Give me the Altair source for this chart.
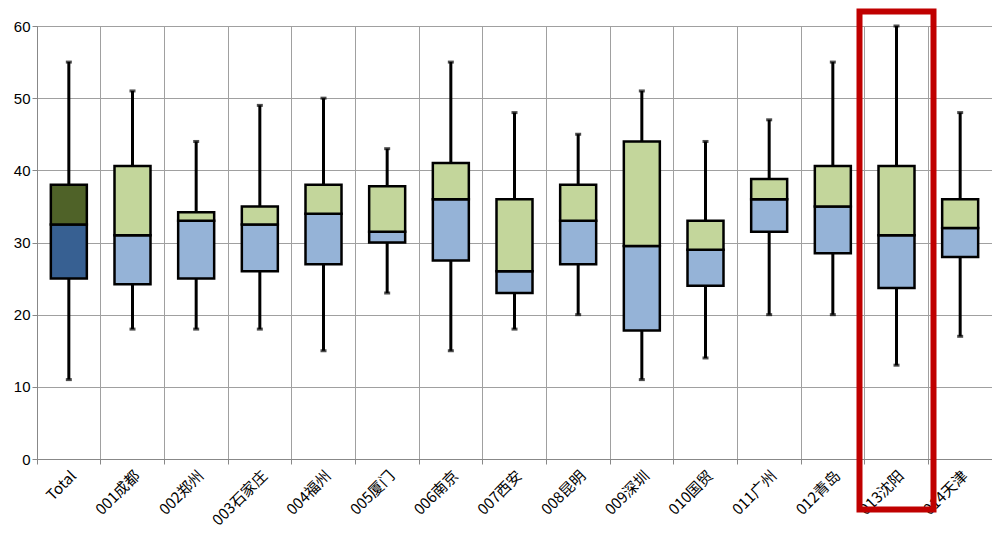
import altair as alt
import pandas as pd

cats = ["Total","001成都","002郑州","003石家庄","004福州","005厦门","006南京","007西安",
        "008昆明","009深圳","010国贸","011广州","012青岛","013沈阳","014天津"]
mins = [11,18,18,18,15,23,15,18,20,11,14,20,20,13,17]
q1s  = [25,24.2,25,26,27,30,27.5,23,27,17.8,24,31.5,28.5,23.7,28]
meds = [32.5,31,33,32.5,34,31.5,36,26,33,29.5,29,36,35,31,32]
q3s  = [38,40.6,34.2,35,38,37.8,41,36,38,44,33,38.8,40.6,40.6,36]
maxs = [55,51,44,49,50,43,55,48,45,51,44,47,55,60,48]

df = pd.DataFrame({"cat":cats,"min":mins,"q1":q1s,"med":meds,"q3":q3s,"max":maxs,
                   "lo":["#376092"]+["#95b3d7"]*14,"hi":["#4f6228"]+["#c3d69b"]*14})
hl = pd.DataFrame({"cat":["013沈阳"],"top":[62],"bot":[-7]})

xenc = alt.X("cat:N", sort=cats, title=None,
             scale=alt.Scale(paddingInner=0, paddingOuter=0),
             axis=alt.Axis(labelAngle=-45, labelFont="Noto Sans CJK SC", labelFontSize=15,
                           labelColor="black", grid=True, bandPosition=0, labelOffset=0,
                           gridColor="#a0a0a0", domainColor="#888", tickColor="#888",
                           labelPadding=4))
ysc = alt.Scale(domain=[0,60])
yax = alt.Axis(values=list(range(0,61,10)), gridColor="#a0a0a0", labelFontSize=15,
               labelColor="black", labelFont="Liberation Sans", domainColor="#888",
               tickColor="#888")

base = alt.Chart(df)
whisk = base.mark_rule(color="black", strokeWidth=3).encode(
    x=xenc, y=alt.Y("min:Q", scale=ysc, axis=yax, title=None), y2="max:Q")
caps = base.mark_tick(color="black", thickness=3, size=6).encode(x=xenc, y="min:Q") + \
       base.mark_tick(color="black", thickness=3, size=6).encode(x=xenc, y="max:Q")
low = base.mark_bar(size=36, stroke="black", strokeWidth=2.5).encode(
    x=xenc, y="q1:Q", y2="med:Q", color=alt.Color("lo:N", scale=None))
high = base.mark_bar(size=36, stroke="black", strokeWidth=2.5).encode(
    x=xenc, y="med:Q", y2="q3:Q", color=alt.Color("hi:N", scale=None))
box = alt.Chart(hl).mark_bar(size=74, fill=None, stroke="#c00000", strokeWidth=6, clip=False).encode(
    x=xenc, y="top:Q", y2="bot:Q")

chart = alt.layer(whisk, caps, low, high, box).properties(
    width=955, height=433, padding={"left":5,"top":0,"right":0,"bottom":0}
).configure_view(stroke="#888")

chart.save("out.html", embed_options={"renderer": "svg", "actions": False})
